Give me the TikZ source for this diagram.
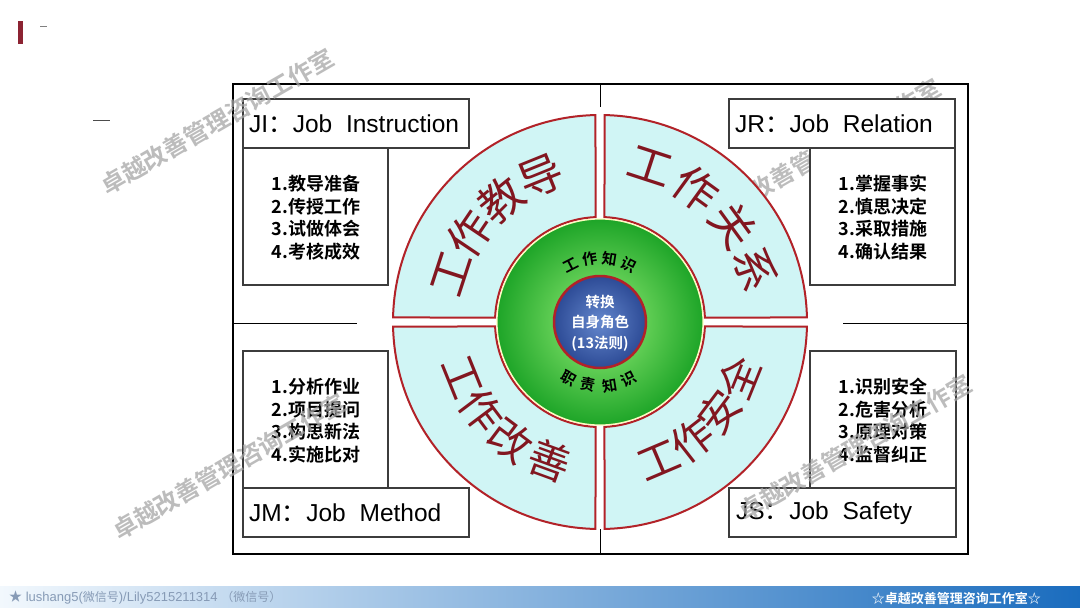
\documentclass[tikz,border=0pt]{standalone}
\usepackage{fontspec}
\setmainfont{Liberation Sans}
\newfontfamily\cjk[BoldFont={Noto Sans CJK SC Bold}]{Noto Sans CJK SC}
\usetikzlibrary{calc}
\definecolor{ringred}{RGB}{178,34,40}
\definecolor{ringfill}{RGB}{208,245,245}
\definecolor{txtred}{RGB}{130,22,32}
\definecolor{barred}{RGB}{140,35,50}
\definecolor{boxline}{RGB}{60,60,60}
\definecolor{foottxt}{RGB}{135,155,182}
\begin{document}
\begin{tikzpicture}[x=1pt,y=1pt,
  boxsh/.style={draw=boxline, line width=1.2pt, fill=white},
  titletxt/.style={anchor=west, font=\fontsize{24.5}{25}\selectfont, inner sep=0pt},
  listtxt/.style={font=\cjk\bfseries\fontsize{18}{22.5}\selectfont, align=left, inner sep=0pt},
  ringtxt/.style={font=\cjk\fontsize{44}{44}\selectfont, text=txtred, inner sep=0pt},
  ringtxtb/.style={font=\cjk\fontsize{42}{42}\selectfont, text=txtred, inner sep=0pt},
  greentxt/.style={font=\cjk\bfseries\fontsize{15}{15}\selectfont, text=black, inner sep=0pt},
  wm/.style={font=\cjk\bfseries\fontsize{24}{24}\selectfont, text=black!35, rotate=30, opacity=0.75, inner sep=0pt}]
\useasboundingbox (0,0) rectangle (1080,-608);
\fill[white] (0,0) rectangle (1080,-608);
% top-left marks
\fill[barred] (18,-21) rectangle (23,-44);
\draw[black!50, line width=0.5pt] (40,-26) -- (47,-26);
\draw[black!70, line width=0.6pt] (93,-120) -- (110,-120);
% watermark behind the diagram
\node[wm] (wm2) at (824,-151) {卓越改善管理咨询工作室};
% frame and dividers
\draw[black, line width=1.8pt] (233,-84) rectangle (968,-554);
\coordinate (vt1) at (600,-84); \coordinate (vt2) at (600,-107);
\coordinate (vb1) at (600,-529); \coordinate (vb2) at (600,-554);
\coordinate (hl1) at (233,-323); \coordinate (hl2) at (357,-323);
\coordinate (hr1) at (843,-323); \coordinate (hr2) at (968,-323);
\draw[black, line width=1pt] (vt1) -- (vt2) (vb1) -- (vb2) (hl1) -- (hl2) (hr1) -- (hr2);
% boxes
\draw[boxsh] (243,-148) rectangle (388,-285);
\draw[boxsh] (243,-99) rectangle (469,-148);
\draw[boxsh] (810,-148) rectangle (955,-285);
\draw[boxsh] (729,-99) rectangle (955,-148);
\draw[boxsh] (243,-351) rectangle (388,-488);
\draw[boxsh] (243,-488) rectangle (469,-537);
\draw[boxsh] (810,-351) rectangle (956,-488);
\draw[boxsh] (729,-488) rectangle (956,-537);
\node[titletxt] (ji) at (249,-124) {JI{\cjk ：}Job\hspace{7pt} Instruction};
\node[titletxt] (jr) at (735,-124) {JR{\cjk ：}Job\hspace{7pt} Relation};
\node[titletxt] (jm) at (249,-513) {JM{\cjk ：}Job\hspace{7pt} Method};
\node[titletxt] (js) at (736,-513) {JS{\cjk ：}Job\hspace{7pt} Safety};
\node[listtxt] (jil) at (316,-217.5) {1.教导准备\\2.传授工作\\3.试做体会\\4.考核成效};
\node[listtxt] (jrl) at (883,-217.5) {1.掌握事实\\2.慎思决定\\3.采取措施\\4.确认结果};
\node[listtxt] (jml) at (316,-420.5) {1.分析作业\\2.项目提问\\3.构思新法\\4.实施比对};
\node[listtxt] (jsl) at (883,-420.5) {1.识别安全\\2.危害分析\\3.原理对策\\4.监督纠正};
% ring quadrants
\coordinate (C) at (600,-322);
\foreach \a in {0,90,180,270}{
  \begin{scope}[shift={(C)}, rotate=\a]
    \draw[ringred, line width=2pt, fill=ringfill, line join=miter]
      (88.75:207) arc[start angle=88.75, end angle=1.25, radius=207]
      -- (2.45:105) arc[start angle=2.45, end angle=87.55, radius=105] -- cycle;
  \end{scope}}
% green circle
\shade[inner color={rgb,255:red,150;green,238;blue,120}, outer color={rgb,255:red,30;green,165;blue,40}] (C) circle (103);
\draw[yellow!25, line width=1.2pt] (C) circle (103);
% blue circle
\shade[inner color={rgb,255:red,100;green,135;blue,205}, outer color={rgb,255:red,45;green,75;blue,150}] (C) circle (46);
\draw[ringred, line width=2.5pt] (C) circle (46);
\node[font=\cjk\bfseries\fontsize{14.5}{20.5}\selectfont, text=white, align=center, inner sep=0pt] (core) at (600,-323) {转换\\自身角色\\(13法则)};
% green circle texts
\foreach \ch/\ang [count=\i] in {工/117,作/99,知/81,识/63}
  \node[greentxt, rotate=\ang-90] (gt\i) at ($(C)+(\ang:64)$) {\ch};
\foreach \ch/\ang [count=\i] in {职/241,责/259,知/279,识/297}
  \node[greentxt, rotate=\ang+90] (gb\i) at ($(C)+(\ang:64)$) {\ch};
% ring texts
\foreach \ch/\ang [count=\i] in {工/162,作/146,教/129,导/112}
  \node[ringtxt, rotate=\ang-90] (qa\i) at ($(C)+(\ang:157)$) {\ch};
\foreach \ch/\ang [count=\i] in {工/72,作/54,关/36,系/19}
  \node[ringtxt, rotate=\ang-90] (qb\i) at ($(C)+(\ang:164)$) {\ch};
\foreach \ch/\ang [count=\i] in {工/202,作/217,改/233,善/250}
  \node[ringtxtb, rotate=\ang+90] (qc\i) at ($(C)+(\ang:148)$) {\ch};
\foreach \ch/\ang [count=\i] in {工/-67,作/-52,安/-37,全/-22}
  \node[ringtxtb, rotate=\ang+90] (qd\i) at ($(C)+(\ang:150)$) {\ch};
% watermarks on top
\node[wm] (wm1) at (217,-121) {卓越改善管理咨询工作室};
\node[wm] (wm3) at (229,-466) {卓越改善管理咨询工作室};
\node[wm] (wm4) at (855,-447) {卓越改善管理咨询工作室};
% bottom bar
\shade[left color={rgb,255:red,242;green,248;blue,253}, middle color={rgb,255:red,188;green,219;blue,240}, right color={rgb,255:red,26;green,108;blue,190}] (0,-586) rectangle (1080,-608);
\node[anchor=west, font=\fontsize{13}{13}\selectfont, text=foottxt, inner sep=0pt] (foot1) at (9,-598) {{\cjk ★} lushang5({\cjk\fontsize{12}{12}\selectfont 微信号})/Lily5215211314 {\cjk\fontsize{12}{12}\selectfont （微信号）}};
\node[anchor=east, font=\cjk\bfseries\fontsize{13}{13}\selectfont, text=white, inner sep=0pt] (foot2) at (1041,-598) {☆卓越改善管理咨询工作室☆};
\end{tikzpicture}
\end{document}
